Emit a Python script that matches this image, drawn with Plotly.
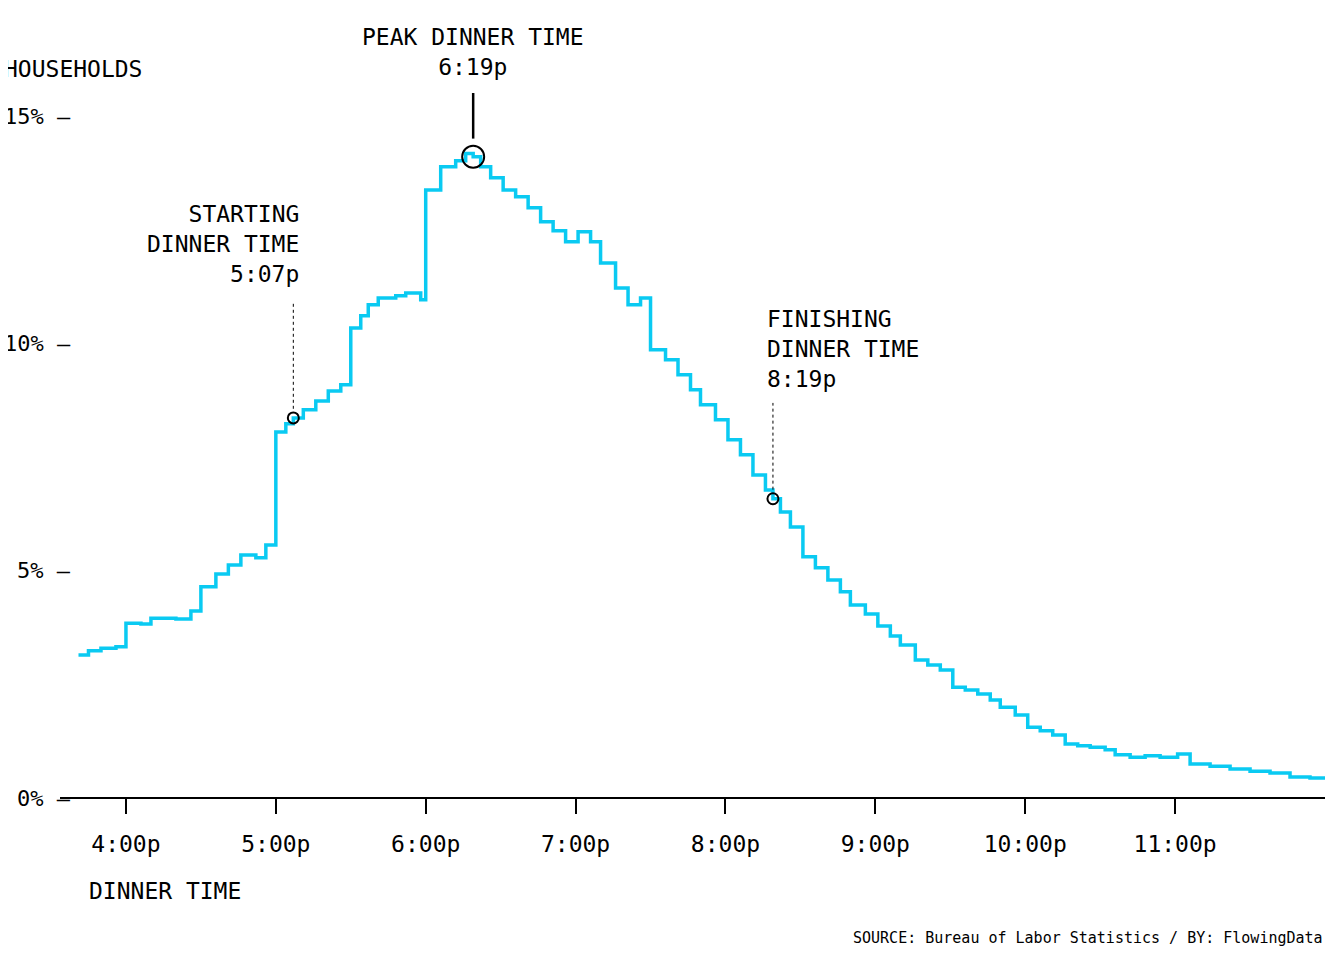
import plotly.graph_objects as go

# minutes after 4:00p, share of households (%)
minutes = [-19,-15,-10,-4,0,6,10,20,26,30,36,41,46,52,56,60,64,67,71,76,81,86,90,94,97,101,108,112,118,
           120,126,132,136,139,142,146,151,156,161,166,171,176,181,186,190,196,201,206,210,216,221,226,230,
           236,241,246,251,256,259,262,266,271,276,281,286,290,296,301,306,310,316,321,326,331,336,341,346,
           350,356,361,366,371,376,381,386,392,396,402,408,414,421,426,434,442,450,458,466,474,480]
values = [3.15,3.24,3.3,3.33,3.85,3.83,3.96,3.94,4.12,4.65,4.93,5.13,5.35,5.29,5.57,8.06,8.24,8.37,8.55,8.74,
          8.96,9.1,10.35,10.62,10.86,11.01,11.06,11.12,10.97,13.39,13.9,14.03,14.19,14.12,13.9,13.66,13.39,
          13.24,13.0,12.69,12.49,12.25,12.47,12.25,11.78,11.23,10.86,11.01,9.87,9.65,9.32,8.99,8.66,8.33,
          7.89,7.56,7.11,6.78,6.59,6.3,5.97,5.31,5.07,4.8,4.54,4.25,4.05,3.79,3.57,3.37,3.04,2.93,2.82,2.44,
          2.38,2.29,2.16,2.0,1.83,1.56,1.48,1.39,1.19,1.15,1.12,1.06,0.95,0.9,0.93,0.9,0.97,0.75,0.7,0.64,
          0.59,0.55,0.46,0.44,0.42]
tick_minutes = [0,60,120,180,240,300,360,420]
tick_labels = ["4:00p","5:00p","6:00p","7:00p","8:00p","9:00p","10:00p","11:00p"]
y_ticks = [0,5,10,15]
y_labels = ["0%","5%","10%","15%"]
events = {"start": (67, 8.37), "peak": (139, 14.12), "finish": (259, 6.59)}

F = "DejaVu Sans Mono"
C = "#0ACAF2"
YMAX = 15.37
fig = go.Figure()
fig.add_trace(go.Scatter(x=minutes, y=values, mode="lines", line=dict(color=C, width=3.5, shape="hv"),
                         hoverinfo="skip"))
for k, (mx, my) in events.items():
    fig.add_trace(go.Scatter(x=[mx], y=[my], mode="markers",
                             marker=dict(size=22 if k == "peak" else 11, color="rgba(0,0,0,0)",
                                         line=dict(color="black", width=2)), hoverinfo="skip"))

sx, sy = events["start"]; fx, fy = events["finish"]; px, py = events["peak"]
fig.add_shape(type="line", x0=sx, x1=sx, y0=sy + 0.2, y1=10.9, line=dict(color="black", width=1, dash="dot"))
fig.add_shape(type="line", x0=fx, x1=fx, y0=fy + 0.2, y1=8.7, line=dict(color="black", width=1, dash="dot"))
fig.add_shape(type="line", x0=px, x1=px, yref="paper", y0=(py + 0.4) / YMAX, y1=1.01,
              line=dict(color="black", width=2.5))

ann = []
for v, t in zip(y_ticks, y_labels):
    ann.append(dict(x=-21, y=v, xref="x", yref="y", text=t + " —", showarrow=False, xanchor="right",
                    font=dict(family=F, size=22)))
ann += [
    dict(x=0, y=1.045, xref="paper", yref="paper", text="HOUSEHOLDS", showarrow=False, xanchor="left",
         xshift=-58, yanchor="middle", font=dict(family=F, size=23)),
    dict(x=px, y=1.026, xref="x", yref="paper", text="PEAK DINNER TIME<br>6:19p", showarrow=False,
         yanchor="bottom", font=dict(family=F, size=23)),
    dict(x=sx + 3, y=11.2, xref="x", yref="y", text="STARTING<br>DINNER TIME<br>5:07p", showarrow=False,
         xanchor="right", yanchor="bottom", align="right", font=dict(family=F, size=23)),
    dict(x=fx - 3, y=8.9, xref="x", yref="y", text="FINISHING<br>DINNER TIME<br>8:19p", showarrow=False,
         xanchor="left", yanchor="bottom", align="left", font=dict(family=F, size=23)),
    dict(x=-15.6, y=-0.112, xref="x", yref="paper", text="DINNER TIME", showarrow=False, xanchor="left",
         yanchor="top", font=dict(family=F, size=23)),
    dict(x=1, y=-0.185, xref="paper", yref="paper", text="SOURCE: Bureau of Labor Statistics / BY: FlowingData",
         showarrow=False, xanchor="right", yanchor="top", font=dict(family=F, size=15)),
]

fig.update_layout(
    width=1340, height=968, showlegend=False, plot_bgcolor="white", paper_bgcolor="white",
    font=dict(family=F, color="black"),
    margin=dict(l=52, r=23, t=92, b=178), annotations=ann,
    xaxis=dict(range=[-26.4, 480], tickvals=tick_minutes, ticktext=tick_labels, ticks="outside", ticklen=15,
               tickcolor="black", tickwidth=1.5, showgrid=False, zeroline=False, showline=False,
               tickfont=dict(family=F, size=23, color="black"), ticklabelstandoff=10),
    yaxis=dict(range=[0, YMAX], showticklabels=False, showgrid=False, zeroline=True, zerolinecolor="black",
               zerolinewidth=2),
)
fig.write_html("out.html")
